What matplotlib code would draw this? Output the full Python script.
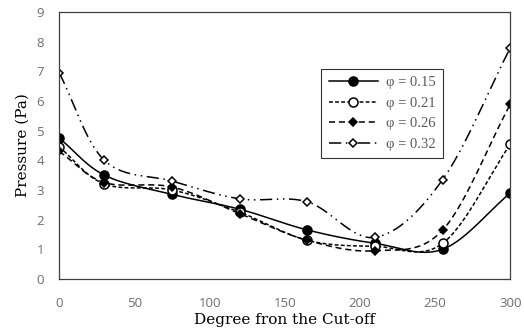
import numpy as np
import matplotlib.pyplot as plt

# degree from the cut-off
degrees = [0, 30, 75, 120, 165, 210, 255, 300]

# pressure (Pa) for each porosity
p_015 = [4.75, 3.5, 2.85, 2.35, 1.65, 1.2, 1.0, 2.9]
p_021 = [4.45, 3.2, 3.0, 2.25, 1.3, 1.1, 1.2, 4.55]
p_026 = [4.3, 3.25, 3.1, 2.2, 1.3, 0.95, 1.65, 5.9]
p_032 = [6.95, 4.0, 3.3, 2.7, 2.6, 1.4, 3.35, 7.8]

labels = ["φ = 0.15", "φ = 0.21", "φ = 0.26", "φ = 0.32"]


def smooth(x, y, n=30):
    # catmull-rom curve through the points (like excel "smoothed line")
    x = np.asarray(x, float)
    y = np.asarray(y, float)
    px = np.concatenate([[2 * x[0] - x[1]], x, [2 * x[-1] - x[-2]]])
    py = np.concatenate([[2 * y[0] - y[1]], y, [2 * y[-1] - y[-2]]])
    xs, ys = [], []
    t = np.linspace(0, 1, n)
    for i in range(1, len(px) - 2):
        for p, out in ((px, xs), (py, ys)):
            p0, p1, p2, p3 = p[i - 1], p[i], p[i + 1], p[i + 2]
            out.extend(0.5 * ((2 * p1) + (-p0 + p2) * t
                              + (2 * p0 - 5 * p1 + 4 * p2 - p3) * t ** 2
                              + (-p0 + 3 * p1 - 3 * p2 + p3) * t ** 3))
    return np.array(xs), np.array(ys)


fig = plt.figure(figsize=(5.24, 3.34), dpi=100)
ax = fig.add_axes([0.113, 0.165, 0.861, 0.799])

styles = [
    dict(ls="-", marker="o", mfc="black", ms=6.5),
    dict(ls=(0, (2.5, 1.5)), marker="o", mfc="white", ms=6.5),
    dict(ls=(0, (4, 2.5)), marker="D", mfc="black", ms=4.5),
    dict(ls=(0, (8, 3, 1, 3, 1, 3)), marker="D", mfc="white", ms=4.5),
]

for ys, lab, st in zip([p_015, p_021, p_026, p_032], labels, styles):
    sx, sy = smooth(degrees, ys)
    ax.plot(sx, sy, color="black", lw=1.1, ls=st["ls"])
    ax.plot(degrees, ys, ls="none", marker=st["marker"], ms=st["ms"],
            mfc=st["mfc"], mec="black", mew=1.1)
    ax.plot([], [], color="black", lw=1.1, ls=st["ls"], marker=st["marker"],
            ms=st["ms"], mfc=st["mfc"], mec="black", mew=1.1, label=lab)

ax.set_xlim(0, 300)
ax.set_ylim(0, 9)
ax.set_xticks(range(0, 301, 50))
ax.set_yticks(range(0, 10))
ax.tick_params(length=0, labelsize=9.5, colors="#6e6e6e")
ax.tick_params(axis="x", pad=13)
ax.tick_params(axis="y", pad=11)
for lbl in ax.get_xticklabels() + ax.get_yticklabels():
    lbl.set_family("Open Sans")
for s in ax.spines.values():
    s.set_color("#404040")
    s.set_linewidth(0.9)

ax.set_xlabel("Degree fron the Cut-off", family="DejaVu Serif", fontsize=11, labelpad=2)
ax.set_ylabel("Pressure (Pa)", family="DejaVu Serif", fontsize=11, labelpad=5)

leg = ax.legend(loc="upper left", bbox_to_anchor=(0.565, 0.815), frameon=True,
                fancybox=False, edgecolor="black", handlelength=3.4,
                labelspacing=0.5, borderpad=0.5, handletextpad=0.5,
                prop={"family": "Liberation Serif", "size": 10.5})
leg.get_frame().set_linewidth(0.8)
for t in leg.get_texts():
    t.set_color("#595959")

fig.savefig("out.png", dpi=100)
